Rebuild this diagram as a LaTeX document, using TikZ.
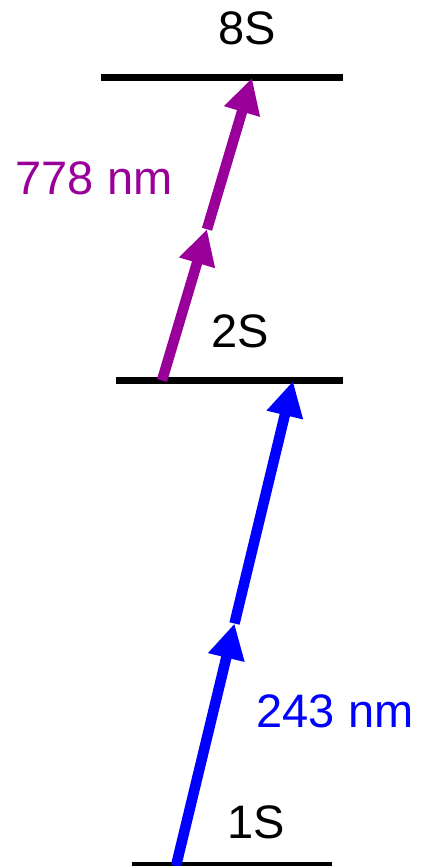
\documentclass[tikz,border=0pt]{standalone}
\usepackage{fontspec}
\setmainfont{Liberation Sans}
\usetikzlibrary{arrows.meta,calc}
\definecolor{laserpurple}{RGB}{153,0,153}
\definecolor{laserblue}{RGB}{0,0,255}
\tikzset{
  level/.style={line width=7pt, black},
  lbl/.style={anchor=base, inner sep=0pt, font=\fontsize{47}{56}\selectfont},
  beam/.style={line width=10.5pt, -{Triangle[length=35pt,width=35pt]}},
}
\begin{document}
\begin{tikzpicture}[x=1pt,y=-1pt]
\useasboundingbox (0,0) rectangle (421,866);
% levels
\coordinate (L8a) at (101,78);  \coordinate (L8b) at (343,78);
\coordinate (L2a) at (116,380.5); \coordinate (L2b) at (343,380.5);
\coordinate (L1a) at (132,865); \coordinate (L1b) at (332,865);
\draw[level] (L8a) -- (L8b);
\draw[level] (L2a) -- (L2b);
\draw[level] (L1a) -- (L1b);
% labels
\node[lbl] (t8) at (247.5,45) {8S};
\node[lbl] (t2) at (240.5,347) {2S};
\node[lbl] (t1) at (256.5,838) {1S};
\node[lbl, text=laserpurple] (w1) at (94,195) {778 nm};
\node[lbl, text=laserblue] (w2) at (335,727) {243 nm};
% purple beam 2S -> 8S
\coordinate (p0) at (162,380.5);
\coordinate (p2) at (252,78);
\coordinate (p1) at ($(p0)!0.5!(p2)$);
\draw[beam, laserpurple] (p0) -- (p1);
\draw[beam, laserpurple] (p1) -- (p2);
% blue beam 1S -> 2S
\coordinate (b0) at (176,866);
\coordinate (b2) at (293,381);
\coordinate (b1) at ($(b0)!0.5!(b2)$);
\draw[beam, laserblue] (b0) -- (b1);
\draw[beam, laserblue] (b1) -- (b2);
\end{tikzpicture}
\end{document}
